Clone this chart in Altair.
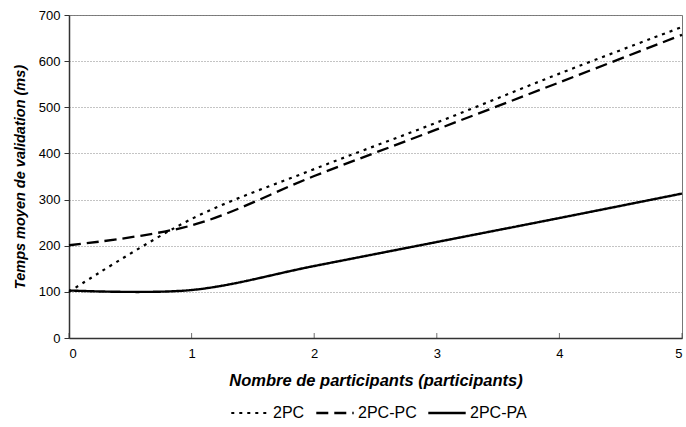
import altair as alt
import pandas as pd

# Mean validation time (ms) versus number of participants
participants = [0, 1, 2, 3, 4, 5]
series_names = ["2PC", "2PC-PC", "2PC-PA"]
t_2pc = [100, 258, 366, 467, 573, 674]
t_2pc_pc = [201, 244, 351, 452, 554, 657]
t_2pc_pa = [103, 104, 156, 208, 260, 313]
x_ticks = [0, 1, 2, 3, 4, 5]
y_ticks = [0, 100, 200, 300, 400, 500, 600, 700]

rows = []
for name, vals in zip(series_names, [t_2pc, t_2pc_pc, t_2pc_pa]):
    for x, v in zip(participants, vals):
        rows.append({"participants": x, "temps": v, "protocole": name})
df = pd.DataFrame(rows)

FONT = "Liberation Sans"

x_enc = alt.X(
    "participants:Q",
    scale=alt.Scale(domain=[0, 5], nice=False, zero=False),
    axis=alt.Axis(
        values=x_ticks, format="d", grid=False, ticks=False,
        labelFontSize=13, labelPadding=9, labelColor="black", labelFont=FONT,
        domainColor="#333", domainWidth=1.3,
        title="Nombre de participants (participants)",
        titleFont=FONT, titleFontSize=16.5, titleFontWeight="bold",
        titleFontStyle="italic", titleColor="black",
        titleX=306.5, titleY=42, titleBaseline="middle", titleAlign="center",
    ),
)

y_enc = alt.Y(
    "temps:Q",
    scale=alt.Scale(domain=[0, 700], nice=False),
    axis=alt.Axis(
        values=y_ticks, grid=True, gridColor="#888", gridDash=[1, 2],
        gridWidth=1, tickSize=5, tickColor="#333", labelFontSize=13,
        labelPadding=4, labelColor="black", labelFont=FONT,
        domainColor="#333", domainWidth=1.5,
        title="Temps moyen de validation (ms)",
        titleFont=FONT, titleFontSize=14.5, titleFontWeight="bold",
        titleFontStyle="italic", titleColor="black",
        titleX=-49, titleY=161.5, titleAngle=270,
        titleBaseline="middle", titleAlign="center",
    ),
)

legend_opts = dict(
    title=None, orient="none", direction="horizontal",
    legendX=161, legendY=378, symbolType="stroke", symbolSize=1400,
    symbolStrokeColor="black", labelFontSize=16, labelFont=FONT,
    labelColor="black", labelOffset=3, columnPadding=6,
)

lines = alt.Chart(df).mark_line(interpolate="catmull-rom", color="black").encode(
    x=x_enc,
    y=y_enc,
    strokeDash=alt.StrokeDash(
        "protocole:N",
        sort=series_names,
        scale=alt.Scale(domain=series_names, range=[[3, 5], [12, 6], [1, 0]]),
        legend=alt.Legend(**legend_opts),
    ),
    strokeWidth=alt.StrokeWidth(
        "protocole:N",
        sort=series_names,
        scale=alt.Scale(domain=series_names, range=[2.2, 2.4, 1.3]),
        legend=alt.Legend(**legend_opts),
    ),
)

# small inward tick marks on the x axis
tick_df = pd.DataFrame({"participants": x_ticks, "temps": [0] * len(x_ticks)})
x_tick_marks = alt.Chart(tick_df).mark_tick(
    orient="vertical", size=5, color="#333", thickness=1, yOffset=-2.5
).encode(x="participants:Q", y="temps:Q")

chart = (
    alt.layer(lines, x_tick_marks)
    .properties(
        width=613,
        height=323,
        autosize=alt.AutoSizeParams(type="none"),
        padding={"left": 69, "top": 15, "right": 4, "bottom": 89},
        background="white",
    )
    .configure_view(stroke="#777", strokeWidth=1)
)

chart.save("out.html", embed_options={"renderer": "svg", "actions": False})
